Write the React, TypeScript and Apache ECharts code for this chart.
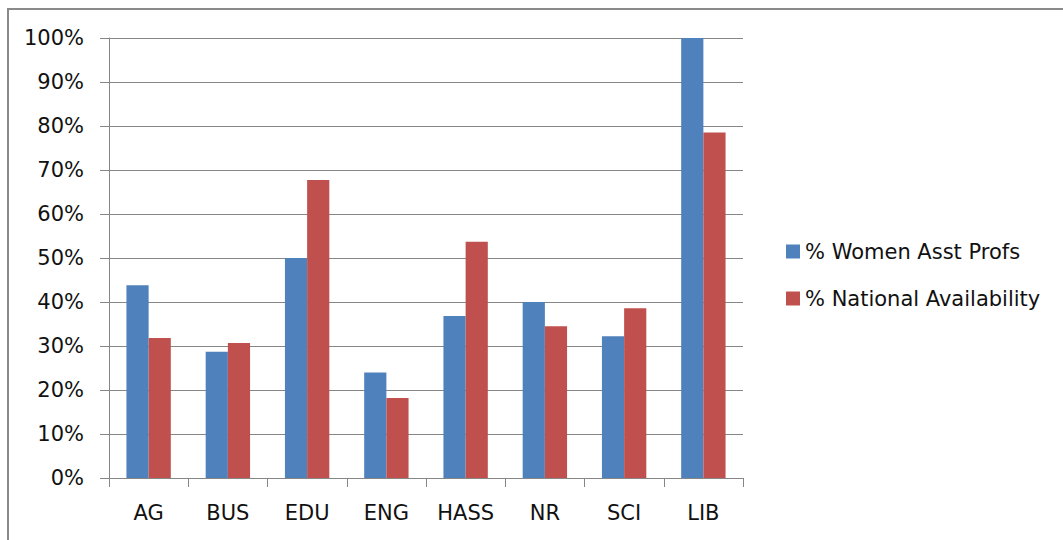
import React, { useEffect, useRef } from "react";
import * as echarts from "echarts";

const categories = ["AG", "BUS", "EDU", "ENG", "HASS", "NR", "SCI", "LIB"];
const womenAsstProfs = [43.8, 28.7, 50.0, 24.0, 36.8, 40.0, 32.2, 100.0];
const nationalAvailability = [31.8, 30.7, 67.7, 18.2, 53.7, 34.5, 38.6, 78.5];
const seriesNames = ["% Women Asst Profs", "% National Availability"];
const colors = ["#4F81BD", "#C0504D"];

const FONT = "DejaVu Sans";

export default function App() {
  const ref = useRef<HTMLDivElement>(null);
  useEffect(() => {
    if (!ref.current) return;
    const chart = echarts.init(ref.current, undefined, { renderer: "svg" });
    chart.setOption({
      animation: false,
      backgroundColor: "#ffffff",
      textStyle: { fontFamily: FONT },
      graphic: [
        {
          type: "rect",
          shape: { x: 8, y: 9, width: 1100, height: 600 },
          style: { fill: "none", stroke: "#8a8a8a", lineWidth: 2 },
          silent: true,
        },
      ],
      grid: { left: 109, top: 38, right: 320, bottom: 62, containLabel: false },
      legend: {
        orient: "vertical",
        left: 786,
        top: 241,
        padding: 0,
        itemWidth: 14,
        itemHeight: 14,
        itemGap: 26,
        icon: "rect",
        textStyle: { fontFamily: FONT, fontSize: 21, color: "#111111" },
        data: seriesNames,
      },
      xAxis: {
        type: "category",
        data: categories,
        axisLine: { lineStyle: { color: "#868686", width: 1 } },
        axisTick: { show: true, length: 9, lineStyle: { color: "#868686" } },
        axisLabel: { fontFamily: FONT, fontSize: 21, color: "#111111", margin: 24 },
        splitLine: { show: false },
      },
      yAxis: {
        type: "value",
        min: 0,
        max: 100,
        interval: 10,
        axisLine: { show: true, lineStyle: { color: "#868686", width: 1 } },
        axisTick: { show: true, length: 9, lineStyle: { color: "#868686" } },
        axisLabel: {
          fontFamily: FONT,
          fontSize: 21,
          color: "#111111",
          margin: 25,
          formatter: (v: number) => `${v}%`,
        },
        splitLine: { show: true, lineStyle: { color: "#868686", width: 1 } },
      },
      series: [
        {
          name: seriesNames[0],
          type: "bar",
          data: womenAsstProfs,
          itemStyle: { color: colors[0] },
          barGap: "0%",
          barCategoryGap: "44%",
        },
        {
          name: seriesNames[1],
          type: "bar",
          data: nationalAvailability,
          itemStyle: { color: colors[1] },
          barGap: "0%",
          barCategoryGap: "44%",
        },
      ],
    });
    return () => chart.dispose();
  }, []);
  return (
    <div
      ref={ref}
      style={{ position: "absolute", left: 0, top: 0, width: 1063, height: 540 }}
    />
  );
}
